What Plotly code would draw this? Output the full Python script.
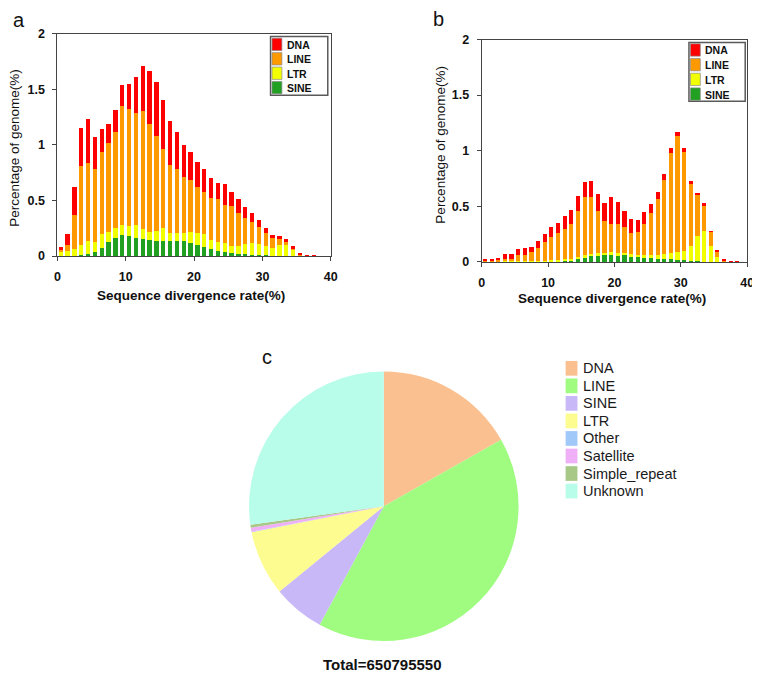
import plotly.graph_objects as go

# ---------------- data ----------------
divergence = [0.5, 1.5, 2.5, 3.5, 4.5, 5.5, 6.5, 7.5, 8.5, 9.5,
              10.5, 11.5, 12.5, 13.5, 14.5, 15.5, 16.5, 17.5, 18.5, 19.5,
              20.5, 21.5, 22.5, 23.5, 24.5, 25.5, 26.5, 27.5, 28.5, 29.5,
              30.5, 31.5, 32.5, 33.5, 34.5, 35.5, 36.5, 37.5, 38.5, 39.5]

a_sine = [0.003, 0.002, 0.005, 0.01, 0.015, 0.04, 0.075, 0.126, 0.165, 0.19,
          0.185, 0.167, 0.153, 0.141, 0.138, 0.138, 0.135, 0.135, 0.132, 0.12,
          0.10, 0.082, 0.065, 0.044, 0.035, 0.026, 0.02, 0.015, 0.012, 0.009,
          0.006, 0.004, 0.003, 0.002, 0.001, 0.0, 0.0, 0.0, 0.0, 0.0]
a_ltr = [0.044, 0.043, 0.06, 0.09, 0.12, 0.086, 0.125, 0.094, 0.085, 0.09,
         0.085, 0.113, 0.087, 0.079, 0.092, 0.112, 0.075, 0.075, 0.078, 0.10,
         0.11, 0.118, 0.082, 0.079, 0.085, 0.064, 0.07, 0.09, 0.105, 0.096,
         0.082, 0.072, 0.097, 0.098, 0.058, 0.01, 0.002, 0.0, 0.0, 0.0]
a_line = [0.012, 0.055, 0.305, 0.71, 0.705, 0.654, 0.74, 0.80, 0.87, 1.07,
          1.05, 1.01, 1.06, 0.97, 0.85, 0.71, 0.61, 0.57, 0.50, 0.46,
          0.415, 0.38, 0.373, 0.387, 0.34, 0.36, 0.30, 0.235, 0.193, 0.155,
          0.122, 0.084, 0.055, 0.03, 0.009, 0.01, 0.004, 0.002, 0.001, 0.001]
a_dna = [0.021, 0.095, 0.25, 0.34, 0.39, 0.29, 0.20, 0.17, 0.19, 0.19,
         0.23, 0.32, 0.41, 0.475, 0.485, 0.44, 0.39, 0.34, 0.29, 0.26,
         0.225, 0.20, 0.18, 0.15, 0.19, 0.125, 0.12, 0.10, 0.075, 0.06,
         0.04, 0.03, 0.025, 0.02, 0.022, 0.01, 0.006, 0.004, 0.003, 0.002]

b_sine = [0.002, 0.002, 0.002, 0.002, 0.002, 0.003, 0.003, 0.004, 0.005, 0.006,
          0.008, 0.012, 0.015, 0.018, 0.024, 0.04, 0.05, 0.053, 0.06, 0.065,
          0.065, 0.068, 0.053, 0.047, 0.038, 0.032, 0.026, 0.024, 0.024, 0.02,
          0.018, 0.009, 0.006, 0.003, 0.001, 0.0, 0.0, 0.0, 0.0, 0.0]
b_ltr = [0.003, 0.003, 0.004, 0.004, 0.004, 0.005, 0.005, 0.006, 0.007, 0.006,
         0.007, 0.008, 0.01, 0.012, 0.02, 0.02, 0.02, 0.024, 0.02, 0.025,
         0.015, 0.012, 0.017, 0.018, 0.027, 0.03, 0.039, 0.046, 0.056, 0.074,
         0.082, 0.135, 0.224, 0.277, 0.139, 0.044, 0.01, 0.002, 0.0, 0.0]
b_line = [0.013, 0.013, 0.014, 0.024, 0.021, 0.052, 0.057, 0.08, 0.118, 0.168,
          0.205, 0.24, 0.275, 0.31, 0.411, 0.525, 0.515, 0.383, 0.285, 0.25,
          0.26, 0.23, 0.19, 0.205, 0.28, 0.378, 0.505, 0.67, 0.90, 1.036,
          0.89, 0.561, 0.37, 0.235, 0.135, 0.05, 0.01, 0.004, 0.002, 0.001]
b_dna = [0.012, 0.012, 0.02, 0.04, 0.043, 0.055, 0.06, 0.045, 0.06, 0.07,
         0.09, 0.09, 0.115, 0.125, 0.135, 0.135, 0.145, 0.15, 0.165, 0.24,
         0.20, 0.15, 0.13, 0.105, 0.105, 0.08, 0.06, 0.05, 0.045, 0.04,
         0.035, 0.025, 0.02, 0.015, 0.005, 0.011, 0.01, 0.006, 0.004, 0.003]

x_ticks = [0, 10, 20, 30, 40]
y_ticks = [0, 0.5, 1, 1.5, 2]
y_tick_labels = ["0", "0.5", "1", "1.5", "2"]

bar_legend_names = ["DNA", "LINE", "LTR", "SINE"]

pie_labels = ["DNA", "LINE", "SINE", "LTR", "Other", "Satellite", "Simple_repeat", "Unknown"]
pie_values = [16.8, 41.1, 6.2, 7.8, 0.05, 0.5, 0.35, 27.2]
total_text = "Total=650795550"

# ---------------- styles ----------------
bar_colors = {"DNA": "#FF0000", "LINE": "#FF9900", "LTR": "#F2FF00", "SINE": "#22A022"}
pie_colors = ["#FBC08F", "#A0FC80", "#C8B8F8", "#FCFC90", "#A0C8F8", "#F0B0F8", "#A8C888", "#B8FCEA"]
FONT = "Liberation Sans, Arial, sans-serif"
W, H = 760, 700
OFF = 8  # page body margin: the figure is drawn 8px right/down of the window origin


def fx(px):
    return (px - OFF) / W


def fy(py):
    return 1 - (py - OFF) / H


fig = go.Figure()

for (sine, ltr, line, dna), xa, ya in [
    ((a_sine, a_ltr, a_line, a_dna), "x", "y"),
    ((b_sine, b_ltr, b_line, b_dna), "x2", "y2"),
]:
    for name, vals in [("SINE", sine), ("LTR", ltr), ("LINE", line), ("DNA", dna)]:
        fig.add_trace(go.Bar(
            x=divergence, y=vals, name=name, xaxis=xa, yaxis=ya,
            marker=dict(color=bar_colors[name], line=dict(width=0)),
            showlegend=False,
        ))

# pie: centre ~(385.8, 509.2) px, radius ~137.5 px
pcx, pcy, ph = 385.8, 509.2, 275.0
fig.add_trace(go.Pie(
    labels=pie_labels, values=pie_values, sort=False, direction="clockwise",
    rotation=0, marker=dict(colors=pie_colors, line=dict(width=0)),
    textinfo="none", textposition="none", hoverinfo="label+percent", showlegend=False,
    domain=dict(x=[fx(pcx - ph / 2), fx(pcx + ph / 2)],
                y=[fy(pcy + ph / 2), fy(pcy - ph / 2)]),
))

axis_common = dict(
    showgrid=False, zeroline=False, showline=True, linecolor="#444444", linewidth=1,
    mirror=True, ticks="outside", ticklen=4, tickcolor="#444444", ticklabelstandoff=5,
    tickfont=dict(family=FONT, size=12.5, color="#111111", weight="bold"),
)

fig.update_layout(
    width=W, height=H,
    margin=dict(l=0, r=0, t=0, b=0),
    paper_bgcolor="white", plot_bgcolor="white",
    barmode="stack", bargap=0.37,
    showlegend=False,
    xaxis=dict(domain=[fx(55), fx(332)], anchor="y", range=[0, 40], tickvals=x_ticks, **axis_common),
    yaxis=dict(domain=[fy(254), fy(27)], anchor="x", range=[0, 2], tickvals=y_ticks,
               ticktext=y_tick_labels, **axis_common),
    xaxis2=dict(domain=[fx(485), fx(754)], anchor="y2", range=[0, 40], tickvals=x_ticks, **axis_common),
    yaxis2=dict(domain=[fy(260), fy(33)], anchor="x2", range=[0, 2], tickvals=y_ticks,
                ticktext=y_tick_labels, **axis_common),
)

annotations = []
shapes = []


def px_ann(text, x, y, size, xanchor="center", angle=0, weight="normal", color="#111111"):
    annotations.append(dict(
        text=text, x=fx(x), y=fy(y), xref="paper", yref="paper", showarrow=False,
        xanchor=xanchor, yanchor="middle", textangle=angle,
        font=dict(family=FONT, size=size, color=color, weight=weight),
    ))


def px_rect(x0, y0, x1, y1, fill, line_color, line_width):
    shapes.append(dict(
        type="rect", xref="paper", yref="paper",
        x0=fx(x0), x1=fx(x1), y0=fy(y1), y1=fy(y0),
        fillcolor=fill, line=dict(color=line_color, width=line_width), layer="above",
    ))


# panel letters and titles
px_ann("a", 16, 13, 20)
px_ann("b", 441, 12, 20)
px_ann("c", 267, 357, 20)
px_ann("Sequence divergence rate(%)", 190.5, 294, 13.5, weight="bold")
px_ann("Sequence divergence rate(%)", 617.5, 297, 13.5, weight="bold")
px_ann("Percentage of genome(%)", 12, 143.5, 13.5, angle=-90)
px_ann("Percentage of genome(%)", 443, 140, 13.5, angle=-90)
px_ann(total_text, 384, 671, 15, weight="bold")

# bar-chart legends (drawn as boxes)
for (bx0, by0, bx1, by1, first, step) in [(271, 30, 329, 90, 38.0, 14.7), (695, 36, 752, 96, 43.7, 15.0)]:
    px_rect(bx0, by0, bx1, by1, "white", "#5a5a5a", 1.5)
    for i, name in enumerate(bar_legend_names):
        cy = first + step * i
        px_rect(bx0 + 1.5, cy - 6.3, bx0 + 11.5, cy + 6.3, bar_colors[name], "#8a8a8a", 0.7)
        px_ann(name, bx0 + 14.5, cy + 0.5, 10.5, xanchor="left", weight="bold")

# pie legend
for i, (name, col) in enumerate(zip(pie_labels, pie_colors)):
    cy = 368.5 + 17.9 * i
    px_rect(570, cy - 7.5, 582, cy + 7.5, col, col, 0)
    px_ann(name, 586, cy, 14.5, xanchor="left", color="#1a1a1a")

fig.update_layout(annotations=annotations, shapes=shapes)

fig.write_html("out.html")
